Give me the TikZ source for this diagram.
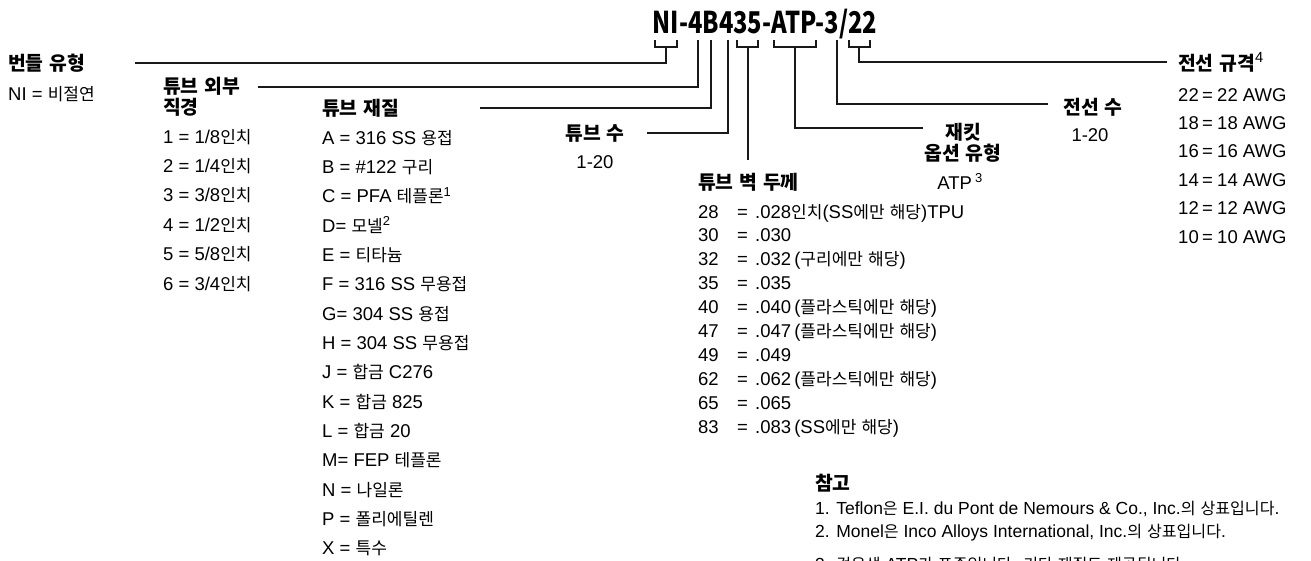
\documentclass[tikz,border=0pt]{standalone}
\usepackage{fontspec}
\usepackage{tikz}
\setmainfont{Liberation Sans}
\newfontfamily\krfont{Noto Sans CJK KR}[Scale=0.92]
\newfontfamily\codefont{Noto Sans CJK KR}[FakeStretch=0.79]
% hangul syllables switch to the korean family
\XeTeXinterchartokenstate=1
\newXeTeXintercharclass\hangulclass
\makeatletter
\count@="AC00
\loop
  \XeTeXcharclass\count@=\hangulclass
  \advance\count@ by 1
\ifnum\count@<"D7A4 \repeat
\makeatother
\XeTeXinterchartoks 0 \hangulclass = {\begingroup\krfont}
\XeTeXinterchartoks 4095 \hangulclass = {\begingroup\krfont}
\XeTeXinterchartoks \hangulclass 0 = {\endgroup}
\XeTeXinterchartoks \hangulclass 4095 = {\endgroup}

\tikzset{
  lead/.style={line width=1.2pt,black!90},
  hd/.style={font=\fontsize{21}{23}\selectfont\bfseries,inner sep=0pt},
  item/.style={font=\fontsize{18.5}{21}\selectfont,inner sep=0pt,anchor=base west},
  note/.style={font=\fontsize{17.5}{20}\selectfont,inner sep=0pt,anchor=base west},
}

\begin{document}
\begin{tikzpicture}[x=1pt,y=-1pt]
  \useasboundingbox (0,0) rectangle (1311,560);
  \node[font=\fontsize{30}{32}\selectfont\codefont\bfseries,inner sep=0pt,anchor=base]
    (code) at (765,33) {NI-4B435-ATP-3/22};
  \foreach \a/\b in {655/677, 737/758, 774/816, 849/870}
    \draw[lead] (\a,40) |- (\b,47) -- (\b,40);
  \coordinate (ni) at (666,47);
  \coordinate (od) at (698,40);
  \coordinate (mat) at (711,40);
  \coordinate (num) at (728,40);
  \coordinate (wall) at (748,47);
  \coordinate (jak) at (795,47);
  \coordinate (wires) at (837,40);
  \coordinate (awg) at (859,47);

  \node[hd,anchor=base west] (bundle) at (8,70) {번들 유형};
  \node[item] (bundle1) at (8,100) {NI = 비절연};
  \coordinate (bundleL) at (135,63);
  \draw[lead] (bundleL) -| (ni);

  \node[hd,anchor=base west] (odh) at (163,93) {튜브 외부};
  \node[hd,anchor=base west] (odh2) at (163,114) {직경};
  \foreach \v [count=\i] in {1/8,1/4,3/8,1/2,5/8,3/4}
    \node[item] (od\i) at (163,{113.6+29.4*\i}) {\i\ = \v{}인치};
  \coordinate (odL) at (258,87);
  \draw[lead] (odL) -| (od);

  \node[hd,anchor=base west] (math) at (322,115) {튜브 재질};
  \foreach \t [count=\i from 0] in {A = 316 SS 용접, B = \#122 구리,
      C = PFA 테플론\textsuperscript{1}, D= 모넬\textsuperscript{2}, E = 티타늄,
      F = 316 SS 무용접, G= 304 SS 용접, H = 304 SS 무용접, J = 합금 C276,
      K = 합금 825, L = 합금 20, M= FEP 테플론, N = 나일론, P = 폴리에틸렌, X = 특수}
    \node[item] (mat\i) at (322,{144+29.35*\i}) {\t};
  \coordinate (matL) at (480,108);
  \draw[lead] (matL) -| (mat);

  \node[hd,anchor=base] (numh) at (595,140) {튜브 수};
  \node[item,anchor=base] (num1) at (595,168) {1-20};
  \coordinate (numL) at (647,133);
  \draw[lead] (numL) -| (num);

  \node[hd,anchor=base west] (wallh) at (698,189) {튜브 벽 두께};
  \coordinate (wallB) at (748,160);
  \draw[lead] (wall) -- (wallB);
  \foreach \n/\v/\r [count=\i from 0] in {28/.028/인치(SS에만 해당)TPU, 30/.030/{},
      32/.032/\,(구리에만 해당), 35/.035/{}, 40/.040/\,(플라스틱에만 해당),
      47/.047/\,(플라스틱에만 해당), 49/.049/{}, 62/.062/\,(플라스틱에만 해당),
      65/.065/{}, 83/.083/\,(SS에만 해당)} {
    \node[item] (wn\i) at (698,{218+23.9*\i}) {\n};
    \node[item] (we\i) at (737,{218+23.9*\i}) {=};
    \node[item] (wv\i) at (755,{218+23.9*\i}) {\v\r};
  }

  \node[hd,anchor=base] (jakh) at (963,139) {재킷};
  \node[hd,anchor=base] (jakh2) at (963,160) {옵션 유형};
  \node[item,anchor=base] (jak1) at (960,189) {ATP\,\textsuperscript{3}};
  \coordinate (jakR) at (923,128);
  \draw[lead] (jakR) -| (jak);

  \node[hd,anchor=base] (wiresh) at (1093,114) {전선 수};
  \node[item,anchor=base] (wires1) at (1090,141) {1-20};
  \coordinate (wiresR) at (1048,104);
  \draw[lead] (wiresR) -| (wires);

  \node[hd,anchor=base west] (awgh) at (1178,70) {전선 규격\textsuperscript{\mdseries 4}};
  \foreach \g [count=\i from 0] in {22,18,16,14,12,10} {
    \node[item] (an\i) at (1178,{101+28.4*\i}) {\g};
    \node[item] (ae\i) at (1202,{101+28.4*\i}) {=};
    \node[item] (av\i) at (1217,{101+28.4*\i}) {\g\ AWG};
  }
  \coordinate (awgR) at (1167,62);
  \draw[lead] (awgR) -| (awg);

  \node[hd,anchor=base west] (notes) at (815,490) {참고};
  \node[note] (n1) at (815,514) {1. Teflon은 E.I. du Pont de Nemours \& Co., Inc.의 상표입니다.};
  \node[note] (n2) at (815,537) {2. Monel은 Inco Alloys International, Inc.의 상표입니다.};
  \node[note] (n3) at (815,570) {3. 검은색 ATP가 표준입니다. 기타 재질도 제공됩니다.};
\end{tikzpicture}
\end{document}
